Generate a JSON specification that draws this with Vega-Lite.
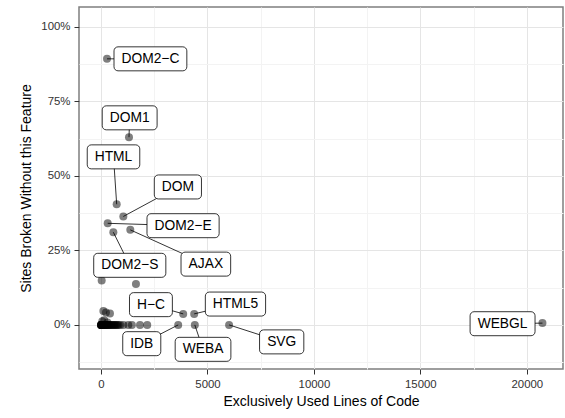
{
  "$schema": "https://vega.github.io/schema/vega-lite/v6.json",
  "width": 484,
  "height": 362,
  "autosize": "none",
  "padding": {"left": 79, "top": 7, "right": 2, "bottom": 49},
  "background": "white",
  "config": {
    "font": "Liberation Sans",
    "view": {"stroke": "#7f7f7f", "strokeWidth": 1.5}
  },
  "data": {
    "values": [
      {"x": 281, "y": 0.893, "label": "DOM2−C", "lx": 2320, "ly": 0.893},
      {"x": 1313, "y": 0.630, "label": "DOM1", "lx": 1345, "ly": 0.695},
      {"x": 735, "y": 0.405, "label": "HTML", "lx": 586, "ly": 0.564},
      {"x": 1047, "y": 0.364, "label": "DOM", "lx": 3610, "ly": 0.463},
      {"x": 313, "y": 0.341, "label": "DOM2−E", "lx": 3853, "ly": 0.333},
      {"x": 1375, "y": 0.319, "label": "AJAX", "lx": 4923, "ly": 0.204},
      {"x": 578, "y": 0.311, "label": "DOM2−S", "lx": 1350, "ly": 0.200},
      {"x": 3860, "y": 0.037, "label": "H−C", "lx": 2344, "ly": 0.068},
      {"x": 4375, "y": 0.037, "label": "HTML5", "lx": 6315, "ly": 0.070},
      {"x": 3625, "y": 0.0, "label": "IDB", "lx": 1913, "ly": -0.063},
      {"x": 4405, "y": 0.0, "label": "WEBA", "lx": 4791, "ly": -0.082},
      {"x": 6015, "y": 0.0, "label": "SVG", "lx": 8486, "ly": -0.057},
      {"x": 20735, "y": 0.006, "label": "WEBGL", "lx": 18861, "ly": 0.004},
      {"x": 30, "y": 0.149},
      {"x": 1640, "y": 0.137},
      {"x": 110, "y": 0.047},
      {"x": 230, "y": 0.042},
      {"x": 420, "y": 0.038},
      {"x": 60, "y": 0.012},
      {"x": 150, "y": 0.016},
      {"x": 300, "y": 0.008},
      {"x": 0, "y": 0.0},
      {"x": 0, "y": 0.0},
      {"x": 0, "y": 0.0},
      {"x": 5, "y": 0.0},
      {"x": 10, "y": 0.0},
      {"x": 20, "y": 0.0},
      {"x": 30, "y": 0.0},
      {"x": 40, "y": 0.0},
      {"x": 50, "y": 0.0},
      {"x": 60, "y": 0.0},
      {"x": 80, "y": 0.0},
      {"x": 100, "y": 0.0},
      {"x": 120, "y": 0.0},
      {"x": 150, "y": 0.0},
      {"x": 180, "y": 0.0},
      {"x": 200, "y": 0.0},
      {"x": 230, "y": 0.0},
      {"x": 260, "y": 0.0},
      {"x": 300, "y": 0.0},
      {"x": 330, "y": 0.0},
      {"x": 370, "y": 0.0},
      {"x": 400, "y": 0.0},
      {"x": 450, "y": 0.0},
      {"x": 500, "y": 0.0},
      {"x": 550, "y": 0.0},
      {"x": 600, "y": 0.0},
      {"x": 650, "y": 0.0},
      {"x": 700, "y": 0.0},
      {"x": 760, "y": 0.0},
      {"x": 820, "y": 0.0},
      {"x": 900, "y": 0.0},
      {"x": 1050, "y": 0.0},
      {"x": 1280, "y": 0.0},
      {"x": 1450, "y": 0.0},
      {"x": 1830, "y": 0.0},
      {"x": 2170, "y": 0.0}
    ]
  },
  "layer": [
    {
      "mark": {"type": "circle", "size": 64, "color": "black", "opacity": 0.5},
      "encoding": {
        "x": {
          "field": "x", "type": "quantitative",
          "scale": {"domain": [-1035, 21700], "nice": false, "zero": false},
          "axis": {
            "title": "Exclusively Used Lines of Code",
            "values": [0, 2500, 5000, 7500, 10000, 12500, 15000, 17500, 20000],
            "format": "d",
            "labelExpr": "datum.value % 5000 === 0 ? datum.label : ''",
            "domain": false,
            "grid": true,
            "gridColor": {"condition": {"test": "datum.value % 5000 !== 0", "value": "#f3f3f3"}, "value": "#e5e5e5"},
            "gridWidth": 1,
            "tickColor": "#333333",
            "tickOpacity": {"condition": {"test": "datum.value % 5000 !== 0", "value": 0}, "value": 1},
            "tickSize": 5,
            "tickWidth": 1,
            "labelFont": "Liberation Sans",
            "labelFontSize": 11.4,
            "labelColor": "#333333",
            "labelPadding": 4,
            "titleFont": "Liberation Sans",
            "titleFontSize": 14,
            "titleFontWeight": "normal",
            "titleColor": "black",
            "titlePadding": 5
          }
        },
        "y": {
          "field": "y", "type": "quantitative",
          "scale": {"domain": [-0.148, 1.067], "nice": false, "zero": false},
          "axis": {
            "title": "Sites Broken Without this Feature",
            "values": [-0.125, 0, 0.125, 0.25, 0.375, 0.5, 0.625, 0.75, 0.875, 1],
            "format": ".0%",
            "labelExpr": "abs(datum.value*4 - round(datum.value*4)) < 0.01 ? datum.label : ''",
            "domain": false,
            "grid": true,
            "gridColor": {"condition": {"test": "abs(datum.value*4 - round(datum.value*4)) > 0.01", "value": "#f3f3f3"}, "value": "#e5e5e5"},
            "gridWidth": 1,
            "tickColor": "#333333",
            "tickOpacity": {"condition": {"test": "abs(datum.value*4 - round(datum.value*4)) > 0.01", "value": 0}, "value": 1},
            "tickSize": 5,
            "tickWidth": 1,
            "labelFont": "Liberation Sans",
            "labelFontSize": 11.4,
            "labelColor": "#333333",
            "labelPadding": 4,
            "titleFont": "Liberation Sans",
            "titleFontSize": 14,
            "titleFontWeight": "normal",
            "titleColor": "black",
            "titlePadding": 7
          }
        }
      }
    },
    {
      "transform": [{"filter": "isValid(datum.label)"}],
      "mark": {"type": "rule", "color": "black", "strokeWidth": 0.8},
      "encoding": {
        "x": {"field": "x", "type": "quantitative"},
        "y": {"field": "y", "type": "quantitative"},
        "x2": {"field": "lx"},
        "y2": {"field": "ly"}
      }
    },
    {
      "transform": [{"filter": "isValid(datum.label)"}],
      "mark": {
        "type": "rect",
        "fill": "white",
        "stroke": "black",
        "strokeWidth": 0.8,
        "cornerRadius": 4,
        "height": 24,
        "width": {"expr": "15 + 13.8*(0.72*length(datum.label) + 0.11*length(replace(datum.label,/[^M]/g,'')) + 0.06*length(replace(datum.label,/[^OG]/g,'')) + 0.22*length(replace(datum.label,/[^W]/g,'')) - 0.16*length(replace(datum.label,/[^0-9L]/g,'')) - 0.14*length(replace(datum.label,/[^−]/g,'')) - 0.05*length(replace(datum.label,/[^AEBSVX]/g,'')) - 0.11*length(replace(datum.label,/[^T]/g,'')) - 0.22*length(replace(datum.label,/[^J]/g,'')) - 0.44*length(replace(datum.label,/[^I]/g,'')))"}
      },
      "encoding": {
        "x": {"field": "lx", "type": "quantitative"},
        "y": {"field": "ly", "type": "quantitative"}
      }
    },
    {
      "transform": [{"filter": "isValid(datum.label)"}],
      "mark": {"type": "text", "font": "Liberation Sans", "fontSize": 13.8, "color": "black", "align": "center", "baseline": "middle"},
      "encoding": {
        "x": {"field": "lx", "type": "quantitative"},
        "y": {"field": "ly", "type": "quantitative"},
        "text": {"field": "label"}
      }
    }
  ]
}
